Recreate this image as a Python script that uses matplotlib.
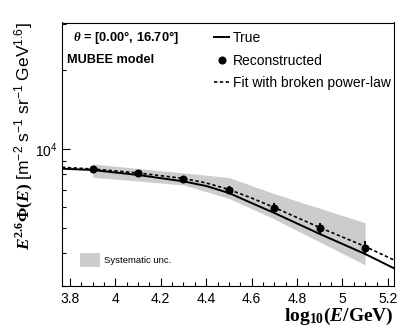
import matplotlib
matplotlib.use("Agg")
import matplotlib.pyplot as plt
from matplotlib.ticker import FixedLocator, LogLocator, NullFormatter, MultipleLocator, FormatStrFormatter
from matplotlib.lines import Line2D
from matplotlib.patches import Patch

plt.rcParams['mathtext.fontset'] = 'custom'
plt.rcParams['mathtext.rm'] = 'Liberation Serif:bold'
plt.rcParams['mathtext.bf'] = 'Liberation Serif:bold'
plt.rcParams['mathtext.it'] = 'Liberation Serif:italic:bold'
plt.rcParams['mathtext.sf'] = 'Liberation Sans'
plt.rcParams['font.family'] = 'Liberation Sans'

# Data
log_e = [3.9, 4.1, 4.3, 4.5, 4.7, 4.9, 5.1]
flux_reco = [8390, 8080, 7685, 7005, 5975, 4980, 4205]
flux_err = [150, 150, 160, 210, 240, 245, 250]
band_hi = [8765, 8430, 8105, 7785, 6750, 5945, 5230]
band_lo = [7800, 7550, 7290, 6480, 5405, 4415, 3610]

line_x = [3.765, 3.9, 4.1, 4.3, 4.4, 4.5, 4.6, 4.7, 4.9, 5.1, 5.227]
flux_true = [8410, 8315, 7960, 7525, 7225, 6795, 6220, 5700, 4740, 3975, 3505]
flux_fit = [8515, 8390, 8100, 7720, 7420, 7005, 6500, 5980, 5015, 4245, 3770]

fig = plt.figure(figsize=(4.15, 3.3), dpi=100)
ax = fig.add_axes([62/415, 44/330, 332/415, 263.5/330])

ax.fill_between(log_e, band_lo, band_hi, color='#cccccc', lw=0, zorder=1)
ax.plot(line_x, flux_true, color='black', lw=1.4, zorder=2)
ax.plot(line_x, flux_fit, color='black', lw=1.2, ls=(0, (2, 1.5)), zorder=3)
ax.errorbar(log_e, flux_reco, yerr=flux_err, fmt='o', color='black', ms=4.8,
            elinewidth=1.4, capsize=0, zorder=4)

ax.set_yscale('log')
ax.set_xlim(3.765, 5.227)
ax.set_ylim(3000, 30400)

ax.xaxis.set_major_locator(MultipleLocator(0.2))
ax.xaxis.set_minor_locator(MultipleLocator(0.05))
ax.xaxis.set_major_formatter(FormatStrFormatter('%g'))
ax.yaxis.set_major_locator(FixedLocator([1e4]))
ax.set_yticklabels([r'$\mathsf{10^{4}}$'])
ax.yaxis.set_minor_locator(LogLocator(subs=[2, 3, 4, 5, 6, 7, 8, 9]))
ax.yaxis.set_minor_formatter(NullFormatter())
ax.tick_params(which='both', direction='in', top=False, right=False, width=0.8, labelsize=10)
ax.tick_params(which='major', length=6)
ax.tick_params(which='minor', length=3.2)
ax.tick_params(axis='x', pad=4)
for s in ax.spines.values():
    s.set_linewidth(0.8)

ax.set_xlabel(r'$\mathrm{log}_{10}(E/\mathrm{GeV})$', fontsize=14, loc='right', labelpad=0)
fig.text(24/415, 1 - 22/330,
         r'$E^{2.6}\Phi(E)\ \mathsf{[m^{-2}\ s^{-1}\ sr^{-1}\ GeV^{1.6}]}$',
         rotation=90, ha='center', va='top', fontsize=12.5)

ax.text(73/415, 1 - 38/330, r'$\theta$ = [0.00°, 16.70°]', transform=fig.transFigure,
        fontsize=9.3, fontweight='bold', va='center')
ax.text(67/415, 1 - 60/330, 'MUBEE model', transform=fig.transFigure,
        fontsize=9.2, fontweight='bold', va='center')

handles = [Line2D([], [], color='black', lw=1.4),
           Line2D([], [], color='black', marker='o', ms=4.8, ls='none'),
           Line2D([], [], color='black', lw=1.2, ls=(0, (2, 1.5)))]
leg = ax.legend(handles, ['True', 'Reconstructed', 'Fit with broken power-law'],
                loc='upper left', bbox_to_anchor=(214/415, 1 - 31/330),
                bbox_transform=fig.transFigure, frameon=False, fontsize=10,
                handlelength=1.1, handletextpad=0.25, labelspacing=0.62,
                borderpad=0, borderaxespad=0)
ax.add_artist(leg)

ax.legend([Patch(color='#cccccc', lw=0)], ['Systematic unc.'], loc='upper left',
          bbox_to_anchor=(80/415, 1 - 253/330), bbox_transform=fig.transFigure,
          frameon=False, fontsize=6.8, handlelength=2.1, handleheight=1.9,
          handletextpad=0.4, borderpad=0, borderaxespad=0)

plt.savefig('out.png', dpi=100)
